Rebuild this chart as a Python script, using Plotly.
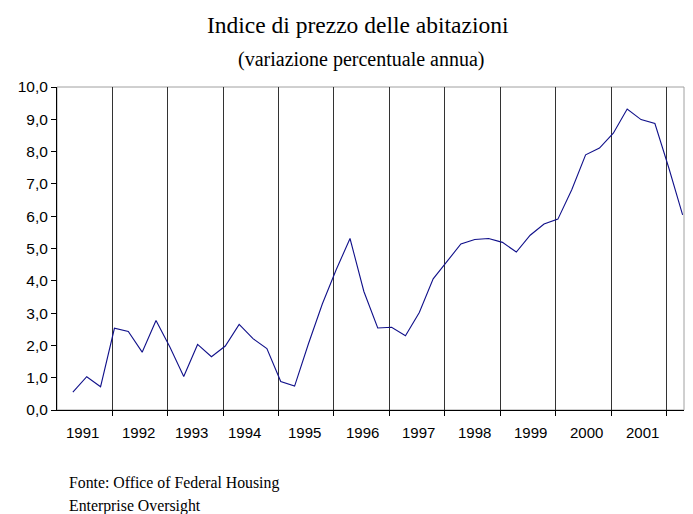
import numpy as np
import plotly.graph_objects as go

# ---- data (quarterly, 1991 Q1 .. 2002 Q1) ----
values = [0.55, 1.03, 0.72, 2.53, 2.43, 1.79, 2.77, 1.95, 1.04, 2.03, 1.65, 1.98,
          2.65, 2.21, 1.90, 0.88, 0.74, 2.05, 3.28, 4.34, 5.31, 3.67, 2.54, 2.56,
          2.30, 3.02, 4.06, 4.60, 5.14, 5.28, 5.31, 5.19, 4.89, 5.41, 5.76, 5.91,
          6.82, 7.90, 8.11, 8.57, 9.32, 8.99, 8.87, 7.50, 6.04]
years = ["1991", "1992", "1993", "1994", "1995", "1996", "1997", "1998", "1999", "2000", "2001"]
title = "Indice di prezzo delle abitazioni"
subtitle = "(variazione percentuale annua)"
source_lines = ["Fonte: Office of Federal Housing", "Enterprise Oversight"]

x = np.arange(len(values))

# layout helpers (axis geometry in quarter units)
x_range = [-1.145, 44.1]
grid_pos = [2.84 + 4 * k for k in range(len(years))]
label_pos = [0.72, 4.77, 8.59, 12.4, 16.74, 20.87, 24.93, 28.98, 33.03, 37.09, 41.14]

SANS = "Liberation Sans, Arial, sans-serif"
SERIF = "Liberation Serif, Times New Roman, serif"

# the page body adds an 8px offset; figure coordinates = window coordinates - 8
OFF = 8
W, H = 693, 514
ML = 57.3 - OFF
MR = W - (684 - OFF)
MT = 87.3 - OFF
MB = H - (410 - OFF)
plot_w = W - ML - MR
plot_h = H - MT - MB

fig = go.Figure()
fig.add_trace(go.Scatter(x=x, y=values, mode="lines",
                         line=dict(color="#10108a", width=1.1),
                         hoverinfo="skip", showlegend=False))

fig.update_layout(
    width=W, height=H,
    margin=dict(l=ML, r=MR, t=MT, b=MB, autoexpand=False),
    paper_bgcolor="white", plot_bgcolor="white",
    separators=",.",
    showlegend=False,
    xaxis=dict(range=x_range, tickvals=grid_pos, showticklabels=False,
               showgrid=True, gridcolor="#333333", gridwidth=1,
               ticks="outside", ticklen=5, tickcolor="black",
               showline=True, linecolor="black", linewidth=1,
               zeroline=False, fixedrange=True, automargin=False),
    yaxis=dict(range=[0, 10], dtick=1, tick0=0, tickformat=".1f",
               showgrid=False, zeroline=False,
               ticks="outside", ticklen=5, tickcolor="black",
               showline=True, linecolor="black", linewidth=1,
               tickfont=dict(family=SANS, size=15.5, color="black"),
               fixedrange=True, automargin=False),
    shapes=[dict(type="rect", xref="paper", yref="paper", x0=0, x1=1, y0=0, y1=1,
                 line=dict(color="#a0a0a0", width=1), layer="below")],
)


def px_to_paper(px, py):
    """window pixel position -> paper coordinates"""
    fx, fy = px - OFF, py - OFF
    return (fx - ML) / plot_w, (H - fy - MB) / plot_h


annotations = []
for yr, pos in zip(years, label_pos):
    annotations.append(dict(x=pos, y=0, xref="x", yref="paper", text=yr,
                            showarrow=False, xanchor="center", yanchor="middle",
                            yshift=-22, font=dict(family=SANS, size=15, color="black")))

tx, ty = px_to_paper(358, 25)
annotations.append(dict(x=tx, y=ty, xref="paper", yref="paper", text=title, showarrow=False,
                        xanchor="center", yanchor="middle",
                        font=dict(family=SERIF, size=23.5, color="black")))
sx, sy = px_to_paper(362, 60)
annotations.append(dict(x=sx, y=sy, xref="paper", yref="paper", text=subtitle, showarrow=False,
                        xanchor="center", yanchor="middle",
                        font=dict(family=SERIF, size=20, color="black")))
for line, cy in zip(source_lines, [483, 506]):
    fx, fy = px_to_paper(67, cy)
    annotations.append(dict(x=fx, y=fy, xref="paper", yref="paper", text=line, showarrow=False,
                            xanchor="left", yanchor="middle",
                            font=dict(family=SERIF, size=15.8, color="black")))

fig.update_layout(annotations=annotations)

fig.write_html("out.html")
